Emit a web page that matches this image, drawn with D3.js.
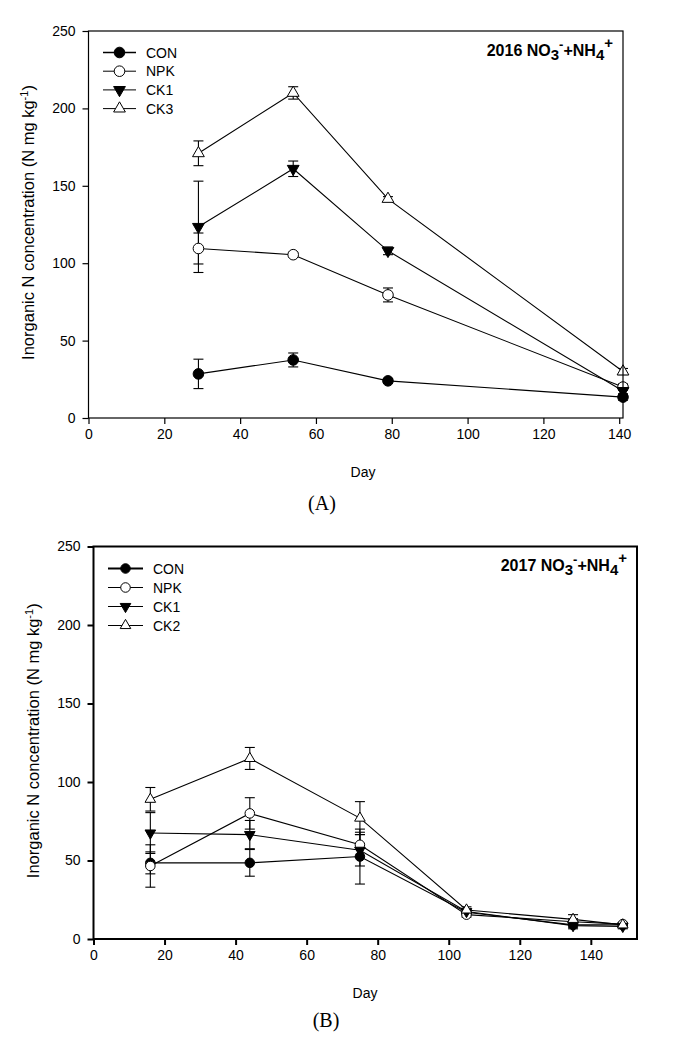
<!DOCTYPE html>
<html>
<head>
<meta charset="utf-8">
<script src="https://cdn.jsdelivr.net/npm/d3@7"></script>
<style>
  html, body { margin: 0; padding: 0; background: #fff; }
  svg text { font-family: Arial, "Liberation Sans", sans-serif; fill: #000; }
</style>
</head>
<body>
<svg id="chart" width="674" height="1058"></svg>
<script>
// ---------- DATA ----------
const seriesNames2016 = ["CON", "NPK", "CK1", "CK3"];
const days2016 = [29, 54, 79, 141];
const con2016 = [28.5, 37.5, 24, 13.5];
const conErr2016 = [9.5, 4.5, 1.5, 2];
const npk2016 = [109.5, 105.5, 79.5, 20];
const npkErr2016 = [10, 1.5, 4.5, 2];
const ck1_2016 = [123.5, 161, 108, 17.5];
const ck1Err2016 = [29.5, 5, 2.5, 2];
const ck3_2016 = [171, 210, 141.5, 30];
const ck3Err2016 = [8, 4, 1.5, 2];

const seriesNames2017 = ["CON", "NPK", "CK1", "CK2"];
const days2017 = [16, 44, 75, 105, 135, 149];
const con2017 = [48.5, 48.5, 52.5, 17, 9, 9];
const conErr2017 = [7, 8.5, 17.5, 1.5, 1.5, 1];
const npk2017 = [46.5, 80, 60, 15.5, 11, 9.5];
const npkErr2017 = [13.5, 10, 8, 1.5, 2, 1];
const ck1_2017 = [67.5, 66.5, 56.5, 17.5, 8.5, 8];
const ck1Err2017 = [13, 9, 10, 1.5, 2, 1.5];
const ck2_2017 = [89, 115, 77, 18.5, 12.5, 9];
const ck2Err2017 = [7.5, 7, 10.5, 2, 3, 1.5];

const xTicks = [0, 20, 40, 60, 80, 100, 120, 140];
const yTicks = [0, 50, 100, 150, 200, 250];

const markerTypes = ["circleFilled", "circleOpen", "triDownFilled", "triUpOpen"];

// ---------- DRAW ----------
const svg = d3.select("#chart");

function marker(g, type, x, y, scale) {
  const s = scale || 1;
  let path;
  if (type.startsWith("circle")) {
    path = g.append("circle").attr("cx", x).attr("cy", y).attr("r", 5.3 * s);
  } else {
    const sym = d3.symbol().type(d3.symbolTriangle).size(60 * s * s);
    path = g.append("path").attr("d", sym())
      .attr("transform", `translate(${x},${y})` + (type === "triDownFilled" ? " rotate(180)" : ""));
  }
  const filled = type.endsWith("Filled");
  path.attr("fill", filled ? "#000" : "#fff").attr("stroke", "#000").attr("stroke-width", 1);
}

function drawChart(cfg) {
  const g = svg.append("g");
  const x = d3.scaleLinear().domain([0, cfg.xMax]).range([cfg.left, cfg.right]);
  const y = d3.scaleLinear().domain([0, 250]).range([cfg.bottom, cfg.top]);

  // error bars
  cfg.series.forEach(s => {
    cfg.days.forEach((d, i) => {
      const cx = x(d), v = s.values[i], e = s.errs[i];
      const eg = g.append("g").attr("stroke", "#000").attr("stroke-width", 1.1);
      eg.append("line").attr("x1", cx).attr("x2", cx).attr("y1", y(v - e)).attr("y2", y(v + e));
      eg.append("line").attr("x1", cx - 5).attr("x2", cx + 5).attr("y1", y(v - e)).attr("y2", y(v - e));
      eg.append("line").attr("x1", cx - 5).attr("x2", cx + 5).attr("y1", y(v + e)).attr("y2", y(v + e));
    });
  });
  // lines
  const line = d3.line().x(p => x(p[0])).y(p => y(p[1]));
  cfg.series.forEach(s => {
    g.append("path").attr("d", line(cfg.days.map((d, i) => [d, s.values[i]])))
      .attr("fill", "none").attr("stroke", "#000").attr("stroke-width", 1.1);
  });
  // markers
  cfg.series.forEach(s => {
    cfg.days.forEach((d, i) => marker(g, s.marker, x(d), y(s.values[i]), cfg.mScale));
  });

  // frame
  g.append("rect").attr("x", cfg.left).attr("y", cfg.top)
    .attr("width", cfg.right - cfg.left).attr("height", cfg.bottom - cfg.top)
    .attr("fill", "none").attr("stroke", "#000").attr("stroke-width", cfg.frameW);

  // axes
  const xa = g.append("g").attr("transform", `translate(0,${cfg.bottom})`)
    .call(d3.axisBottom(x).tickValues(xTicks).tickSize(6).tickPadding(5).tickFormat(d3.format("d")));
  const ya = g.append("g").attr("transform", `translate(${cfg.left},0)`)
    .call(d3.axisLeft(y).tickValues(yTicks).tickSize(6).tickPadding(7).tickFormat(d3.format("d")));
  [xa, ya].forEach(a => {
    a.select(".domain").remove();
    a.selectAll(".tick line").attr("stroke", "#000").attr("stroke-width", cfg.frameW);
    a.selectAll(".tick text").attr("font-size", 14).attr("font-family", "Arial, 'Liberation Sans', sans-serif").attr("fill", "#000");
  });

  // y title
  const yt = g.append("text").attr("transform", `translate(${cfg.yTitleX},${(cfg.top + cfg.bottom) / 2 - 2}) rotate(-90)`)
    .attr("text-anchor", "middle").attr("font-size", 16.5);
  yt.append("tspan").text("Inorganic N concentration (N mg kg");
  yt.append("tspan").attr("dy", -6).attr("font-size", 11).text("-1");
  yt.append("tspan").attr("dy", 6).text(")");

  // x title
  g.append("text").attr("x", cfg.dayX).attr("y", cfg.dayY).attr("text-anchor", "middle")
    .attr("font-size", 14).text("Day");

  // panel label
  g.append("text").attr("x", cfg.panelX).attr("y", cfg.panelY).attr("text-anchor", "middle")
    .attr("font-size", 20)
    .style("font-family", "'Times New Roman', 'Liberation Serif', serif").text(cfg.panel);

  // title
  const t = g.append("text").attr("x", cfg.right - 10).attr("y", cfg.titleY).attr("text-anchor", "end")
    .attr("font-size", 16).attr("font-weight", "bold");
  t.append("tspan").text(cfg.year + " NO");
  t.append("tspan").attr("dy", 4).attr("font-size", 15).text("3");
  t.append("tspan").attr("dy", -11).attr("font-size", 13).text("-");
  t.append("tspan").attr("dy", 7).text("+NH");
  t.append("tspan").attr("dy", 4).attr("font-size", 15).text("4");
  t.append("tspan").attr("dy", -12).attr("font-size", 15).text("+");

  // legend
  cfg.series.forEach((s, i) => {
    const ly = cfg.legY + i * cfg.legStep;
    g.append("line").attr("x1", cfg.legX1).attr("x2", cfg.legX2).attr("y1", ly).attr("y2", ly)
      .attr("stroke", "#000").attr("stroke-width", i === 0 ? cfg.legW0 : 1);
    marker(g, s.marker, (cfg.legX1 + cfg.legX2) / 2, ly, cfg.mScale);
    g.append("text").attr("x", cfg.legX2 + 10).attr("y", ly + 5).attr("font-size", 14).text(s.name);
  });
}

drawChart({
  left: 88.5, right: 623, top: 31, bottom: 418, xMax: 141,
  frameW: 1.2, mScale: 1,
  days: days2016,
  series: [
    { name: seriesNames2016[0], values: con2016, errs: conErr2016, marker: markerTypes[0] },
    { name: seriesNames2016[1], values: npk2016, errs: npkErr2016, marker: markerTypes[1] },
    { name: seriesNames2016[2], values: ck1_2016, errs: ck1Err2016, marker: markerTypes[2] },
    { name: seriesNames2016[3], values: ck3_2016, errs: ck3Err2016, marker: markerTypes[3] }
  ],
  yTitleX: 34, dayX: 363, dayY: 477, panelX: 322, panelY: 510, panel: "(A)",
  year: "2016", titleY: 56,
  legY: 52.5, legStep: 18.7, legX1: 103, legX2: 136, legW0: 1.5
});

drawChart({
  left: 93.5, right: 637, top: 546.5, bottom: 939, xMax: 153,
  frameW: 2, mScale: 0.9,
  days: days2017,
  series: [
    { name: seriesNames2017[0], values: con2017, errs: conErr2017, marker: markerTypes[0] },
    { name: seriesNames2017[1], values: npk2017, errs: npkErr2017, marker: markerTypes[1] },
    { name: seriesNames2017[2], values: ck1_2017, errs: ck1Err2017, marker: markerTypes[2] },
    { name: seriesNames2017[3], values: ck2_2017, errs: ck2Err2017, marker: markerTypes[3] }
  ],
  yTitleX: 39, dayX: 365, dayY: 998, panelX: 326, panelY: 1027, panel: "(B)",
  year: "2017", titleY: 571,
  legY: 568.5, legStep: 19, legX1: 108, legX2: 143, legW0: 2
});
</script>
</body>
</html>
